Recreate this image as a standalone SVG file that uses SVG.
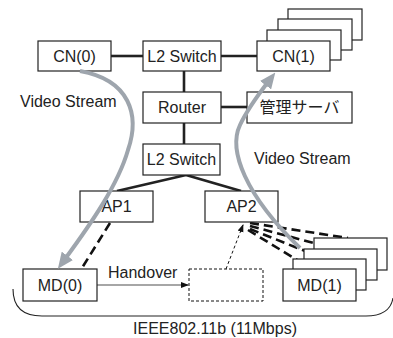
<svg xmlns="http://www.w3.org/2000/svg" width="393" height="338" viewBox="0 0 393 338">
<style>
.box{fill:#fff;stroke:#222;stroke-width:1.2}
.lbl{font-family:"Liberation Sans",Arial,sans-serif;font-size:16px;fill:#222;text-anchor:middle}
.txt{font-family:"Liberation Sans",Arial,sans-serif;font-size:16px;fill:#222}
.jp{font-family:"Liberation Sans","Noto Sans CJK JP",sans-serif;font-size:16px;fill:#222;text-anchor:middle}
.link{stroke:#222;stroke-width:2.6;fill:none}
.wl{stroke:#111;stroke-width:2.6;stroke-dasharray:9,5;fill:none}
.stream{stroke:#9ea5ad;stroke-width:4;fill:none;marker-end:url(#ga)}
</style>
<defs>
<marker id="ga" markerUnits="userSpaceOnUse" markerWidth="16" markerHeight="14" viewBox="0 0 16 14" refX="4" refY="7" orient="auto"><path d="M0,0 L16,7 L0,14 Z" fill="#9ea5ad"/></marker>
<marker id="ba" markerUnits="userSpaceOnUse" markerWidth="8" markerHeight="8" viewBox="0 0 8 8" refX="7" refY="4" orient="auto"><path d="M0,1 L8,4 L0,7 Z" fill="#111"/></marker>
</defs>

<g id="connectors">
<line class="link" x1="111" y1="56" x2="143" y2="56"/>
<line class="link" x1="221" y1="56" x2="257" y2="56"/>
<line class="link" x1="184" y1="71" x2="184" y2="92"/>
<line class="link" x1="221" y1="107" x2="247" y2="107"/>
<line class="link" x1="184" y1="123" x2="184" y2="144"/>
<line class="link" x1="186" y1="175" x2="117" y2="191"/>
<line class="link" x1="186" y1="175" x2="241" y2="191"/>
<line class="wl" x1="110" y1="223" x2="82" y2="268"/>
<line class="wl" x1="250" y1="223" x2="348" y2="238"/>
<line class="wl" x1="250" y1="226" x2="336" y2="249"/>
<line class="wl" x1="250" y1="229" x2="325" y2="259"/>
<line class="wl" x1="248" y1="230" x2="312" y2="269"/>
<line x1="97" y1="285" x2="188" y2="285" stroke="#888" stroke-width="1.3" marker-end="url(#ba)"/>
<line x1="226" y1="269" x2="243" y2="225" stroke="#111" stroke-width="1" stroke-dasharray="3,2.5" marker-end="url(#ba)"/>
<path d="M13,289 Q13,316 42,316 L366,316 Q390,316 393,298" fill="none" stroke="#222" stroke-width="1.1"/>
</g>

<g id="cn0"><rect class="box" x="38" y="41" width="73" height="30"/><text class="lbl" x="74.5" y="62">CN(0)</text></g>
<g id="l2sw-top"><rect class="box" x="143" y="41" width="78" height="30"/><text class="lbl" x="182" y="62">L2 Switch</text></g>
<g id="cn1">
<rect class="box" x="288" y="9" width="74" height="31"/>
<rect class="box" x="278" y="19" width="74" height="31"/>
<rect class="box" x="267" y="30" width="74" height="30"/>
<rect class="box" x="257" y="41" width="73" height="30"/>
<text class="lbl" x="293.5" y="62">CN(1)</text></g>
<g id="router"><rect class="box" x="143" y="92" width="78" height="31"/><text class="lbl" x="182" y="113">Router</text></g>
<g id="mgmt"><rect class="box" x="247" y="92" width="105" height="31"/><text class="jp" x="299.5" y="113">管理サーバ</text></g>
<g id="l2sw-low"><rect class="box" x="143" y="144" width="77" height="31"/><text class="lbl" x="181.5" y="165">L2 Switch</text></g>
<g id="ap1"><rect class="box" x="80" y="191" width="73" height="31"/><text class="lbl" x="116.5" y="212">AP1</text></g>
<g id="ap2"><rect class="box" x="205" y="191" width="73" height="31"/><text class="lbl" x="241.5" y="212">AP2</text></g>
<g id="md0"><rect class="box" x="23" y="269" width="74" height="32"/><text class="lbl" x="60" y="291">MD(0)</text></g>
<g id="md-new"><rect x="189" y="269" width="74" height="32" fill="#fff" stroke="#111" stroke-width="1" stroke-dasharray="3,2"/></g>
<g id="md1">
<rect class="box" x="314" y="238" width="73" height="32"/>
<rect class="box" x="304" y="249" width="73" height="31"/>
<rect class="box" x="293" y="259" width="73" height="31"/>
<rect class="box" x="283" y="269" width="73" height="32"/>
<text class="lbl" x="319.5" y="291">MD(1)</text></g>

<g id="streams">
<path class="stream" d="M80,71 C130,80 140,115 128,150 C118,185 90,225 65,259"/>
<path class="stream" d="M300,248 C245,195 228,150 240,125 C248,108 258,95 268,82"/>
</g>

<g id="labels">
<text class="txt" x="20" y="107">Video Stream</text>
<text class="txt" x="254" y="164">Video Stream</text>
<text class="txt" x="108" y="278">Handover</text>
<text class="lbl" x="215" y="334">IEEE802.11b (11Mbps)</text>
</g>
</svg>
